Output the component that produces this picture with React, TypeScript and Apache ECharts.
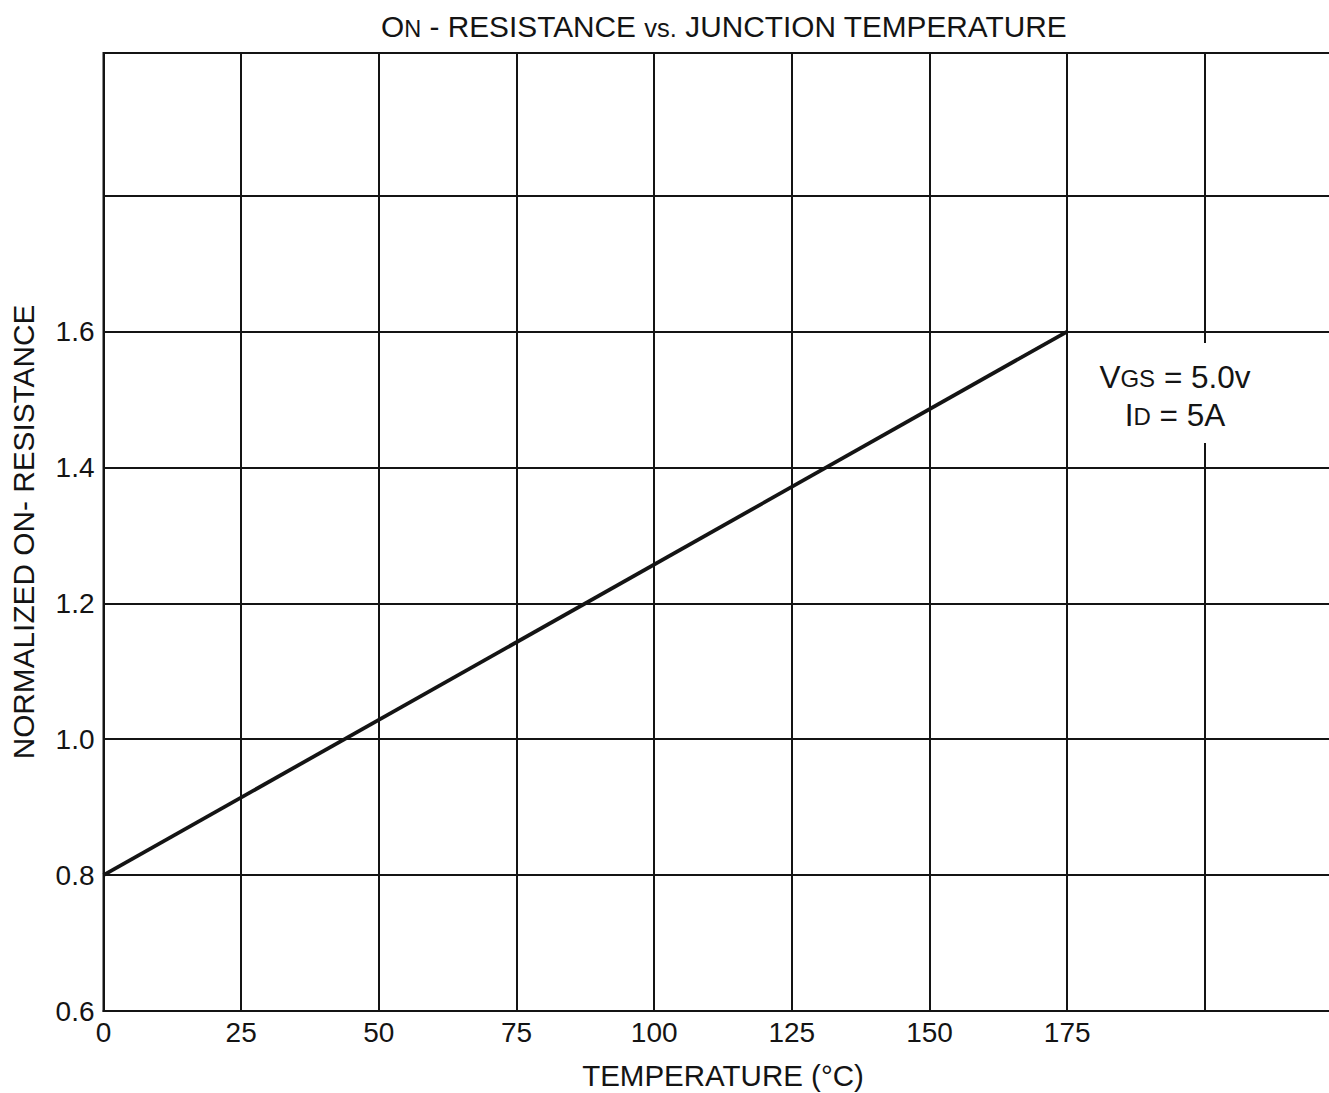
import React, { useEffect, useRef } from "react";
import * as echarts from "echarts";

// Normalized on-resistance vs. junction temperature (linear characteristic)
const temperatures = [0, 175];
const normalizedRds = [0.8, 1.6];

const xTicks = [0, 25, 50, 75, 100, 125, 150, 175];
const yTicks = [0.6, 0.8, 1.0, 1.2, 1.4, 1.6];

const FONT = "'Liberation Sans', Arial, Helvetica, sans-serif";
const INK = "#141414";

export default function App() {
  const ref = useRef<HTMLDivElement>(null);

  useEffect(() => {
    if (!ref.current) return;
    const chart = echarts.init(ref.current, null, { renderer: "svg" });

    const xLast = xTicks[xTicks.length - 1];
    const yLast = yTicks[yTicks.length - 1];

    // horizontal rules: 0.6 … 1.8 drawn, 2.0 hidden (the frame edge sits just above it)
    const hRuleColors = [INK, INK, INK, INK, INK, INK, INK, "rgba(0,0,0,0)", INK];

    chart.setOption({
      animation: false,
      backgroundColor: "#ffffff",
      textStyle: { fontFamily: FONT, color: INK },
      title: {
        text: "{a|O}{b|N}{a| - RESISTANCE }{c|vs.}{a| JUNCTION TEMPERATURE}",
        left: 719,
        textAlign: "center",
        top: 0,
        textStyle: {
          rich: {
            a: { fontFamily: FONT, fontSize: 29.8, color: INK, fontWeight: "normal", lineHeight: 36, verticalAlign: "bottom" },
            b: { fontFamily: FONT, fontSize: 23.5, color: INK, fontWeight: "normal", lineHeight: 32.2, verticalAlign: "bottom" },
            c: { fontFamily: FONT, fontSize: 25.5, color: INK, fontWeight: "normal", lineHeight: 33.5, verticalAlign: "bottom" },
          },
        },
      },
      grid: {
        left: 103.5,
        top: 53,
        width: 1239,
        height: 958,
        show: true,
        borderColor: INK,
        borderWidth: 2,
        containLabel: false,
        outerBoundsMode: "none",
      },
      xAxis: {
        type: "value",
        min: 0,
        max: 225,
        interval: 25,
        name: "TEMPERATURE (°C)",
        nameLocation: "middle",
        nameGap: 49,
        nameTextStyle: { fontFamily: FONT, fontSize: 29.5, color: INK },
        axisLine: { show: true, lineStyle: { color: INK, width: 2 } },
        axisTick: { show: false },
        splitLine: { show: true, lineStyle: { color: INK, width: 2 } },
        axisLabel: {
          margin: 7,
          fontFamily: FONT,
          fontSize: 28,
          color: INK,
          formatter: (v: number) => (xTicks.includes(v) && v <= xLast ? String(v) : ""),
        },
      },
      yAxis: {
        type: "value",
        min: 0.6,
        max: 2.01,
        interval: 0.2,
        name: "NORMALIZED ON- RESISTANCE",
        nameLocation: "middle",
        nameGap: 65,
        nameTextStyle: { fontFamily: FONT, fontSize: 29.8, color: INK },
        axisLine: { show: true, lineStyle: { color: INK, width: 2 } },
        axisTick: { show: false },
        splitLine: { show: true, lineStyle: { color: hRuleColors, width: 2 } },
        axisLabel: {
          margin: 9,
          fontFamily: FONT,
          fontSize: 28,
          color: INK,
          showMaxLabel: false,
          formatter: (v: number) => (v <= yLast + 1e-6 ? v.toFixed(1) : ""),
        },
      },
      series: [
        {
          type: "line",
          data: temperatures.map((t, i) => [t, normalizedRds[i]]),
          symbol: "none",
          lineStyle: { color: INK, width: 3.8 },
          z: 5,
        },
      ],
      graphic: [
        {
          type: "text",
          x: 1175,
          y: 393,
          z: 10,
          style: {
            text: "{v|V}{s|GS}{v| = 5.0v}\n{v|I}{s|D}{v| = 5A}",
            align: "center",
            verticalAlign: "middle",
            backgroundColor: "#ffffff",
            padding: [12, 4],
            rich: {
              v: { fontFamily: FONT, fontSize: 31.5, fill: INK, lineHeight: 38, verticalAlign: "bottom" },
              s: { fontFamily: FONT, fontSize: 24, fill: INK, lineHeight: 38, verticalAlign: "bottom", padding: [0, 0, 3, 0] },
            },
          },
        },
      ],
    });

    return () => chart.dispose();
  }, []);

  return (
    <div
      ref={ref}
      style={{ position: "absolute", left: 0, top: 0, width: 1329, height: 1093, overflow: "hidden" }}
    />
  );
}
